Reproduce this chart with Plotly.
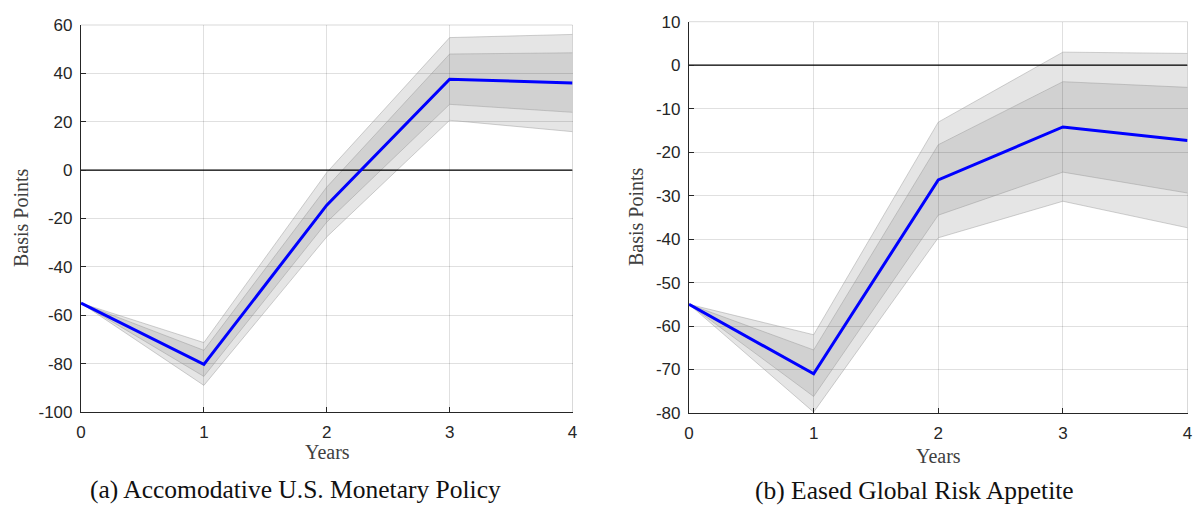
import plotly.graph_objects as go

years = [0, 1, 2, 3, 4]
x_ticks = [0, 1, 2, 3, 4]

# Panel (a): Accomodative U.S. Monetary Policy
a_mean = [-55, -80.3, -14.5, 37.6, 36.0]
a_inner_up = [-55, -74.5, -7.0, 48.0, 48.5]
a_inner_lo = [-55, -85.3, -21.5, 27.2, 23.9]
a_outer_up = [-55, -71.3, -1.0, 54.8, 56.1]
a_outer_lo = [-55, -89.0, -27.6, 20.6, 15.9]
a_yticks = [60, 40, 20, 0, -20, -40, -60, -80, -100]

# Panel (b): Eased Global Risk Appetite
b_mean = [-55, -71.0, -26.4, -14.2, -17.3]
b_inner_up = [-55, -65.5, -18.3, -3.8, -5.1]
b_inner_lo = [-55, -76.2, -34.5, -24.6, -29.4]
b_outer_up = [-55, -62.0, -13.1, 3.0, 2.7]
b_outer_lo = [-55, -79.8, -39.7, -31.3, -37.4]
b_yticks = [10, 0, -10, -20, -30, -40, -50, -60, -70, -80]

zero_x = [0, 4]
zero_y = [0, 0]

captions = ["(a) Accomodative U.S. Monetary Policy", "(b) Eased Global Risk Appetite"]

W, H = 1193, 505
fig = go.Figure()

BAND_FILL = "rgba(0,0,0,0.10)"
EDGE = "rgba(150,150,150,0.55)"

def add_panel(suffix, mean, iu, il, ou, ol):
    xa = "x" + suffix
    ya = "y" + suffix
    fig.add_trace(go.Scatter(x=years, y=ol, mode="lines", line=dict(color=EDGE, width=0.8),
                             xaxis=xa, yaxis=ya, showlegend=False, hoverinfo="skip"))
    fig.add_trace(go.Scatter(x=years, y=ou, mode="lines", line=dict(color=EDGE, width=0.8),
                             fill="tonexty", fillcolor=BAND_FILL,
                             xaxis=xa, yaxis=ya, showlegend=False, hoverinfo="skip"))
    fig.add_trace(go.Scatter(x=years, y=il, mode="lines", line=dict(color=EDGE, width=0.8),
                             xaxis=xa, yaxis=ya, showlegend=False, hoverinfo="skip"))
    fig.add_trace(go.Scatter(x=years, y=iu, mode="lines", line=dict(color=EDGE, width=0.8),
                             fill="tonexty", fillcolor="rgba(0,0,0,0.085)",
                             xaxis=xa, yaxis=ya, showlegend=False, hoverinfo="skip"))
    fig.add_trace(go.Scatter(x=zero_x, y=zero_y, mode="lines", line=dict(color="#000000", width=1.3),
                             xaxis=xa, yaxis=ya, showlegend=False, hoverinfo="skip"))
    fig.add_trace(go.Scatter(x=years, y=mean, mode="lines", line=dict(color="#0000ff", width=3),
                             xaxis=xa, yaxis=ya, showlegend=False))

add_panel("", a_mean, a_inner_up, a_inner_lo, a_outer_up, a_outer_lo)
add_panel("2", b_mean, b_inner_up, b_inner_lo, b_outer_up, b_outer_lo)

tickfont = dict(family="Liberation Sans, Arial, sans-serif", size=17, color="#262626")
grid = "rgba(0,0,0,0.12)"

def px_x(p):
    return min(1.0, max(0.0, p / W))

def px_y(p):
    return min(1.0, max(0.0, 1 - p / H))

dom_a_x = [px_x(81), px_x(572.5)]
dom_a_y = [px_y(412), px_y(25)]
dom_b_x = [px_x(689), px_x(1187.5)]
dom_b_y = [px_y(413), px_y(21.7)]

common_x = dict(range=[0, 4], tickvals=x_ticks, ticktext=[str(t) for t in x_ticks],
                showgrid=True, gridcolor=grid, gridwidth=1, zeroline=False,
                showline=True, linecolor="#262626", linewidth=1.2,
                ticks="inside", ticklen=5, tickcolor="#262626", tickfont=tickfont,
                ticklabelstandoff=4, automargin=False, fixedrange=True)

def yax(ticks, rng, dom, anchor):
    return dict(range=rng, tickvals=ticks, ticktext=[str(t) for t in ticks],
                showgrid=True, gridcolor=grid, gridwidth=1, zeroline=False,
                showline=True, linecolor="#262626", linewidth=1.2,
                ticks="inside", ticklen=5, tickcolor="#262626", tickfont=tickfont,
                ticklabelstandoff=4, automargin=False, domain=dom, anchor=anchor,
                fixedrange=True)

fig.update_layout(
    width=W, height=H,
    margin=dict(l=0, r=0, t=0, b=0, autoexpand=False),
    paper_bgcolor="white", plot_bgcolor="white",
    xaxis=dict(common_x, domain=dom_a_x, anchor="y"),
    yaxis=yax(a_yticks, [-100, 60], dom_a_y, "x"),
    xaxis2=dict(common_x, domain=dom_b_x, anchor="y2"),
    yaxis2=yax(b_yticks, [-80, 10], dom_b_y, "x2"),
)

for dx, dy in [(dom_a_x, dom_a_y), (dom_b_x, dom_b_y)]:
    fig.add_shape(type="line", xref="paper", yref="paper", x0=dx[0], x1=dx[1], y0=dy[1], y1=dy[1],
                  line=dict(color="rgba(0,0,0,0.15)", width=1))
    fig.add_shape(type="line", xref="paper", yref="paper", x0=dx[1], x1=dx[1], y0=dy[0], y1=dy[1],
                  line=dict(color="rgba(0,0,0,0.15)", width=1))

serif = "Liberation Serif, Times New Roman, serif"
label_font = dict(family=serif, size=20, color="#404040")
cap_font = dict(family=serif, size=25.5, color="#111111")
annots = [
    dict(text="Years", x=px_x(327), y=px_y(452), xref="paper", yref="paper", showarrow=False,
         font=label_font, xanchor="center", yanchor="middle"),
    dict(text="Years", x=px_x(938), y=px_y(456), xref="paper", yref="paper", showarrow=False,
         font=label_font, xanchor="center", yanchor="middle"),
    dict(text="Basis Points", x=px_x(21), y=px_y(218), xref="paper", yref="paper", showarrow=False,
         font=label_font, textangle=-90, xanchor="center", yanchor="middle"),
    dict(text="Basis Points", x=px_x(636), y=px_y(217), xref="paper", yref="paper", showarrow=False,
         font=label_font, textangle=-90, xanchor="center", yanchor="middle"),
    dict(text=captions[0], x=px_x(295), y=px_y(489), xref="paper", yref="paper", showarrow=False,
         font=cap_font, xanchor="center", yanchor="middle"),
    dict(text=captions[1], x=px_x(914), y=px_y(490), xref="paper", yref="paper", showarrow=False,
         font=cap_font, xanchor="center", yanchor="middle"),
]
fig.update_layout(annotations=annots)

fig.write_html("out.html")
